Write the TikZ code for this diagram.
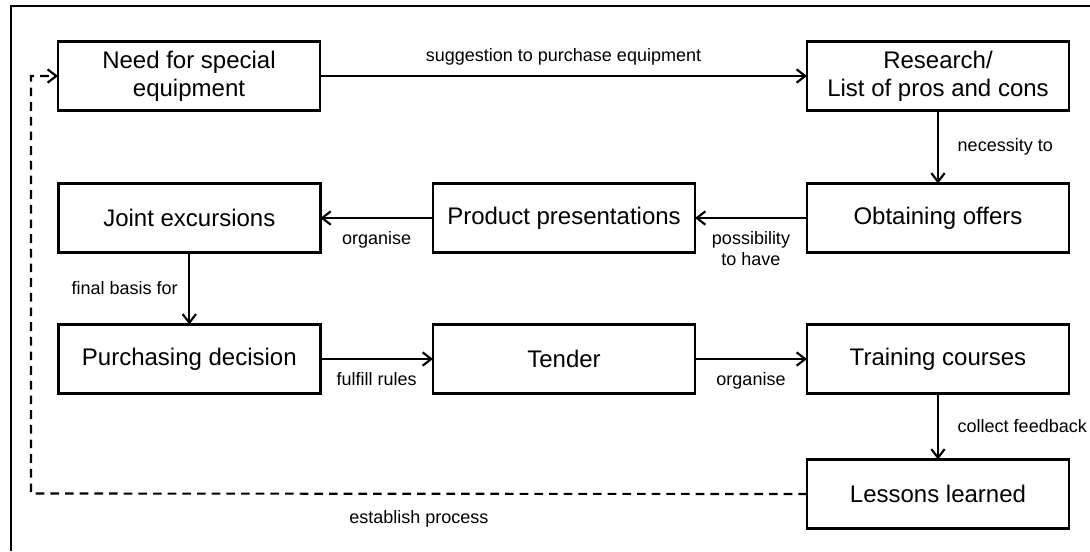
\documentclass[tikz,border=0pt]{standalone}
\usepackage{fontspec}
\setmainfont{Liberation Sans}
\usepackage{tikz}
\usetikzlibrary{arrows.meta,positioning}

\begin{document}
\begin{tikzpicture}[
    x=0.75pt, y=-0.75pt,
    node distance=54pt and 84.5pt,
    box/.style={rectangle, draw, line width=1.8pt, align=center, text centered,
                minimum width=196.5pt, minimum height=51.75pt, outer sep=0pt,
                font=\fontsize{18}{21}\selectfont},
    lbl/.style={font=\fontsize{13.5}{15.75}\selectfont, align=center, inner sep=2pt},
    arr/.style={-{Straight Barb[length=6.5pt, width=10pt, line width=1.6pt]}, line width=1.6pt},
    loop/.style={arr, dash pattern=on 6.5pt off 4.5pt}
]
\useasboundingbox (0,0) rectangle (1090,551);

%% frame
\draw[line width=1.8pt] (11,551) |- (1090,6);

%% top row
\node[box] (need) at (189,76)              {Need for special\\equipment};
\node[box, right=365.25pt of need] (research) {Research/\\List of pros and cons};

%% middle row (right to left)
\node[box, below=54.75pt of research] (offers)  {Obtaining offers};
\node[box, left=84pt of offers]       (product) {Product presentations};
\node[box, left=of product]           (joint)   {Joint excursions};

%% bottom row
\node[box, below=of joint]     (purchase) {Purchasing decision};
\node[box, right=of purchase]  (tender)   {Tender};
\node[box, right=84pt of tender] (training) {Training courses};
\node[box, below=49.5pt of training] (lessons) {Lessons learned};

%% flow
\draw[arr] (need) -- node[lbl, above=5pt]{suggestion to purchase equipment} (research);
\draw[arr] (research) -- node[lbl, right=12pt]{necessity to} (offers);
\draw[arr] (offers) -- node[lbl, below=7pt]{possibility\\to have} (product);
\draw[arr] (product) -- node[lbl, below=7pt]{organise} (joint);
\draw[arr] (joint) -- node[lbl, left=6pt]{final basis for} (purchase);
\draw[arr] (purchase) -- node[lbl, below=7pt]{fulfill rules} (tender);
\draw[arr] (tender) -- node[lbl, below=7pt]{organise} (training);
\draw[arr] (training) -- node[lbl, right=12pt]{collect feedback} (lessons);

%% feedback loop back to the start
\coordinate (back) at (31,493.5);
\draw[loop] (lessons.west) -- node[lbl, below=10pt]{establish process} (back) |- (need.west);

\end{tikzpicture}
\end{document}
